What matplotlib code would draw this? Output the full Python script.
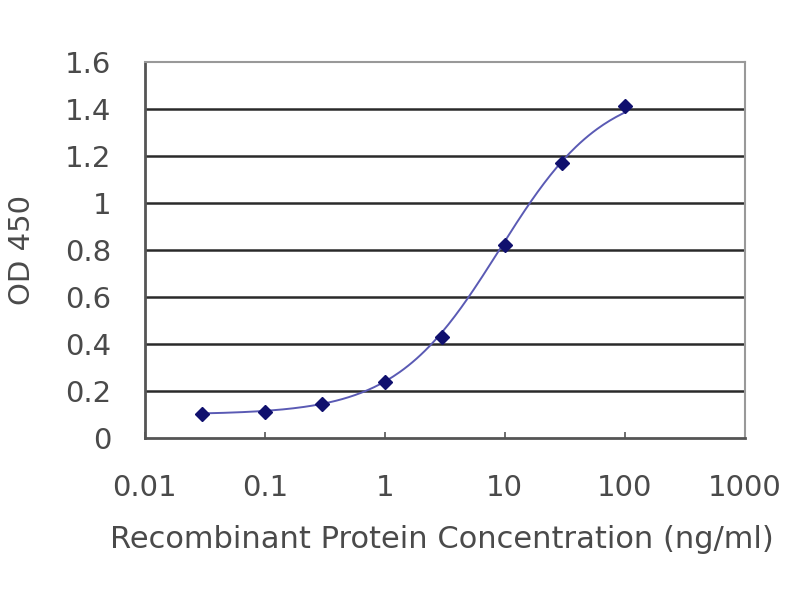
import numpy as np
import matplotlib
matplotlib.use("Agg")
import matplotlib.pyplot as plt
from matplotlib.ticker import FixedLocator, NullLocator

# measured points
conc = [0.03, 0.1, 0.3, 1, 3, 10, 30, 100]
od450 = [0.10, 0.11, 0.145, 0.24, 0.43, 0.82, 1.17, 1.41]

# 4PL fit parameters
fit_bottom = 0.10
fit_top = 1.50
fit_ec50 = 9.0
fit_hill = 1.0

x_ticks = [0.01, 0.1, 1, 10, 100, 1000]
x_labels = ["0.01", "0.1", "1", "10", "100", "1000"]
y_ticks = [0, 0.2, 0.4, 0.6, 0.8, 1, 1.2, 1.4, 1.6]
y_labels = ["0", "0.2", "0.4", "0.6", "0.8", "1", "1.2", "1.4", "1.6"]

plt.rcParams['font.family'] = ['DejaVu Sans']
text_col = "#4a4a4a"

fig = plt.figure(figsize=(8, 6), dpi=100)
ax = fig.add_axes([0.181, 0.27, 0.75, 0.627])

xs = np.logspace(np.log10(conc[0]), np.log10(conc[-1]), 200)
ys = fit_bottom + (fit_top - fit_bottom) / (1 + (fit_ec50 / xs) ** fit_hill)

for y in y_ticks[1:-1]:
    ax.axhline(y, color="#2a2a2a", lw=1.8, zorder=1)

ax.plot(xs, ys, color="#5a5ab4", lw=1.4, zorder=2)
ax.plot(conc, od450, linestyle="none", marker="D", ms=7.5,
        color="#10106e", zorder=3)

ax.set_xscale("log")
ax.set_xlim(0.01, 1000)
ax.set_ylim(0, 1.6)
ax.xaxis.set_major_locator(FixedLocator(x_ticks))
ax.xaxis.set_minor_locator(NullLocator())
ax.set_xticklabels(x_labels)
ax.set_yticks(y_ticks)
ax.set_yticklabels(y_labels)

ax.tick_params(axis="x", direction="in", length=4, width=1.2, color="#555555",
               labelsize=21, labelcolor=text_col, pad=26)
ax.tick_params(axis="y", length=0, labelsize=21, labelcolor=text_col, pad=24)

for side in ["left", "bottom"]:
    ax.spines[side].set_color("#555555")
    ax.spines[side].set_linewidth(2)
for side in ["right", "top"]:
    ax.spines[side].set_color("#999999")
    ax.spines[side].set_linewidth(1.5)

ax.set_xlabel("Recombinant Protein Concentration (ng/ml)", fontsize=22,
              color=text_col, va="center")
ax.xaxis.set_label_coords(0.495, -0.271)
ax.set_ylabel("OD 450", fontsize=21, color=text_col, va="center")
ax.yaxis.set_label_coords(-0.205, 0.5)

fig.savefig("out.png", dpi=100)
